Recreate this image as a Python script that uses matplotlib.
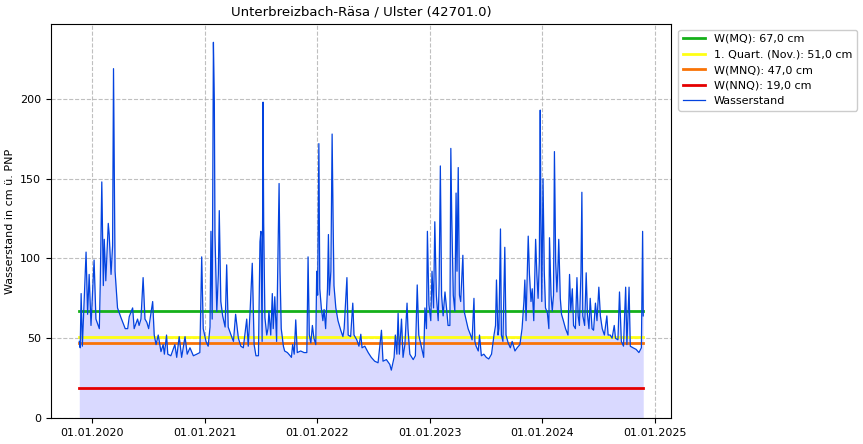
import matplotlib
matplotlib.use("Agg")
import matplotlib.pyplot as plt
import matplotlib.dates as mdates
import numpy as np
import pandas as pd

# ---- data ----
start_date = "2020-01-01"
day_offsets = [
    -41, -38, -35, -31, -19, -14, -9, -3, 7, 13, 24, 27, 32, 37, 40, 45, 53, 56, 62, 67,
    70, 75, 83, 94, 108, 116, 121, 132, 137, 148, 153, 159, 166, 172, 178, 184, 197, 202, 208, 215,
    224, 231, 235, 242, 246, 256, 269, 275, 283, 291, 302, 309, 318, 329, 340, 350, 356, 361, 370, 377,
    383, 386, 390, 394, 397, 399, 405, 410, 413, 418, 424, 432, 437, 442, 453, 459, 466, 475, 483, 491,
    502, 507, 513, 520, 526, 532, 540, 545, 548, 552, 555, 557, 561, 567, 571, 574, 580, 585, 588, 593,
    599, 604, 607, 610, 614, 621, 625, 634, 643, 647, 651, 656, 661, 666, 677, 688, 697, 701, 705, 710,
    715, 720, 726, 729, 732, 736, 739, 744, 749, 753, 758, 764, 767, 770, 775, 779, 782, 785, 791, 798,
    807, 814, 818, 827, 831, 839, 846, 850, 859, 866, 872, 876, 885, 896, 906, 917, 928, 939, 944, 955,
    966, 971, 980, 984, 989, 993, 997, 1004, 1009, 1015, 1022, 1025, 1031, 1042, 1049, 1055, 1060, 1069, 1076, 1080,
    1085, 1088, 1093, 1099, 1103, 1108, 1112, 1117, 1123, 1126, 1130, 1134, 1139, 1145, 1150, 1155, 1161, 1164, 1167, 1170,
    1172, 1177, 1181, 1184, 1188, 1192, 1196, 1203, 1207, 1214, 1220, 1228, 1233, 1239, 1242, 1246, 1253, 1257, 1263, 1271,
    1279, 1287, 1296, 1304, 1309, 1312, 1317, 1320, 1325, 1328, 1333, 1339, 1343, 1350, 1357, 1363, 1372, 1379, 1388, 1395,
    1401, 1404, 1408, 1415, 1419, 1424, 1428, 1433, 1439, 1443, 1447, 1451, 1454, 1456, 1459, 1463, 1467, 1471, 1477, 1482,
    1484, 1489, 1493, 1497, 1500, 1504, 1508, 1511, 1514, 1519, 1523, 1529, 1536, 1544, 1549, 1553, 1558, 1562, 1568, 1573,
    1577, 1581, 1586, 1589, 1592, 1598, 1603, 1607, 1612, 1616, 1622, 1627, 1633, 1638, 1644, 1649, 1655, 1662, 1670, 1674,
    1681, 1687, 1694, 1698, 1706, 1711, 1717, 1724, 1731, 1735, 1742, 1746, 1755, 1765, 1774, 1782, 1786, 1788,
]
wasserstand = [
    48, 44, 78, 45, 104, 65, 90, 58, 99, 62, 56, 84, 148, 83, 112, 86, 122, 115, 90, 108,
    219, 92, 69, 63, 56, 56, 63.5, 69, 56, 62, 58, 62, 88, 62, 60, 56, 73, 52, 46, 52,
    41.6, 46, 40, 52, 40, 39, 46, 38, 51, 38, 51, 40, 44, 39, 40, 41, 101, 56, 48, 45,
    57, 117, 62, 235.5, 198, 115, 66.7, 90, 130, 73, 64, 57, 96, 57, 51, 48, 65, 50, 45, 44,
    62, 45, 67, 97, 46, 39, 39, 110.5, 117, 48, 198, 122, 63, 52, 56, 67, 52, 78, 56, 76,
    48, 108, 147, 92, 56, 45, 42, 41, 39, 38, 46, 40, 61.5, 41, 42, 41, 41, 101, 52, 47,
    58, 50, 46, 92, 77, 172, 81, 69, 61, 68, 56, 81, 115, 77, 92, 178, 126, 83, 69, 61,
    55, 51, 56, 88, 52, 51, 72, 52, 49, 45, 52.5, 44, 45, 41, 38, 35.6, 34.6, 55, 35.6, 36.6,
    33.6, 30, 38, 52, 40, 65.6, 40, 62, 38, 46, 72, 56, 40, 36.6, 39, 83.4, 52, 44, 38, 69,
    56, 117, 71, 61, 92, 69, 123, 77, 61, 84, 158, 77, 64, 79, 69, 58, 58, 169, 125, 98,
    77, 67, 141, 92, 157, 77, 73, 102, 67, 61, 56, 52, 49, 75, 48, 45, 42, 52, 39, 40,
    38, 37, 40, 52, 58, 86.5, 52, 56, 118.5, 52, 48, 107, 52, 47, 44, 48, 42, 44, 46, 56,
    73, 86.5, 61, 114, 90, 73, 81, 61, 112, 90, 75, 98, 193, 129, 73, 150, 92, 69, 66, 56,
    113, 77, 67, 77, 167, 98, 79, 92, 112, 75, 65, 61, 56, 52, 90, 67, 81, 58, 56, 88,
    64, 58, 91, 141.5, 64, 58, 91, 65, 56, 75, 56, 55, 72, 61, 82, 64, 56, 52, 64, 52,
    52, 50, 58, 50, 49, 79, 48, 45, 82, 46, 82, 45, 44, 43, 41, 44, 117, 64,
]
ref_labels = ["W(MQ): 67,0 cm", "1. Quart. (Nov.): 51,0 cm", "W(MNQ): 47,0 cm", "W(NNQ): 19,0 cm"]
ref_values = [67.0, 51.0, 47.0, 19.0]
ref_colors = ["#15b01a", "#ffff14", "#f97306", "#e50000"]
title = "Unterbreizbach-Räsa / Ulster (42701.0)"
ylabel = "Wasserstand in cm ü. PNP"
series_label = "Wasserstand"

dates = pd.Timestamp(start_date) + pd.to_timedelta(day_offsets, unit="D")
values = np.array(wasserstand, dtype=float)

fig = plt.figure(figsize=(8.63, 4.44), dpi=100)
ax = fig.add_axes([0.059, 0.0586, 0.7185, 0.8874])

ax.fill_between(dates, 0, values, color="#d9d9ff", linewidth=0, zorder=1)
for lab, val, col in zip(ref_labels, ref_values, ref_colors):
    ax.plot([dates[0], dates[-1]], [val, val], color=col, linewidth=2, label=lab, zorder=2)
ax.plot(dates, values, color="#0343df", linewidth=0.9, label=series_label, zorder=3)

ax.set_xlim(pd.Timestamp("2019-08-21"), pd.Timestamp("2025-02-21"))
ax.set_ylim(0, 247)
ax.set_yticks([0, 50, 100, 150, 200])
ax.xaxis.set_major_locator(mdates.YearLocator())
ax.xaxis.set_major_formatter(mdates.DateFormatter("%d.%m.%Y"))
ax.tick_params(labelsize=8)
ax.grid(True, linestyle="--", color="#b0b0b0", linewidth=0.8, alpha=0.8)
ax.set_axisbelow(True)
ax.set_title(title, fontsize=9.5)
ax.set_ylabel(ylabel, fontsize=8)

ax.legend(loc="upper left", bbox_to_anchor=(1.003, 1.0), fontsize=8, framealpha=1.0)

fig.savefig("out.png", dpi=100)
